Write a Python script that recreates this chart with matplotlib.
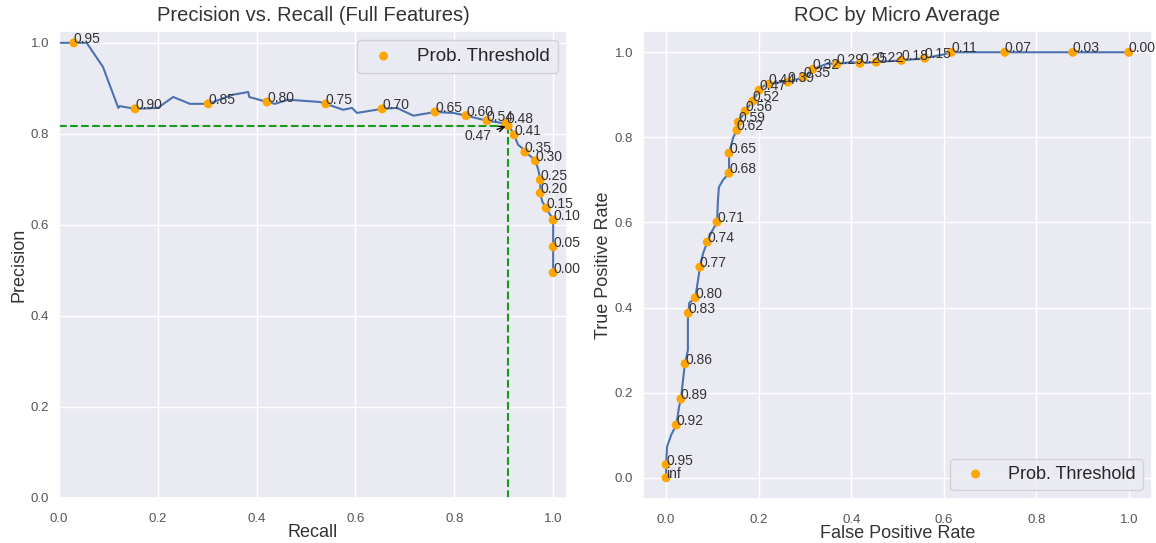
import matplotlib
matplotlib.use("Agg")
import matplotlib.pyplot as plt
import seaborn as sns

# ---- Precision / recall curve (full features) ----
pr_recall = [0.0, 0.030, 0.056, 0.089, 0.120, 0.123, 0.154, 0.200, 0.231, 0.265,
             0.302, 0.352, 0.383, 0.385, 0.421, 0.437, 0.464, 0.528, 0.540, 0.575,
             0.593, 0.603, 0.654, 0.684, 0.717, 0.761, 0.798, 0.824, 0.866, 0.890,
             0.905, 0.912, 0.921, 0.929, 0.937, 0.943, 0.953, 0.964, 0.970, 0.974,
             0.974, 0.978, 0.986, 1.0, 1.0, 1.0]
pr_precision = [1.0, 1.0, 1.0, 0.947, 0.857, 0.861, 0.855, 0.857, 0.881, 0.866,
                0.866, 0.886, 0.892, 0.881, 0.870, 0.866, 0.875, 0.870, 0.866, 0.853,
                0.857, 0.846, 0.855, 0.857, 0.840, 0.848, 0.846, 0.840, 0.829, 0.825,
                0.823, 0.815, 0.798, 0.776, 0.769, 0.760, 0.752, 0.741, 0.721, 0.699,
                0.670, 0.651, 0.637, 0.611, 0.552, 0.495]

pr_thr_labels = ["0.95", "0.90", "0.85", "0.80", "0.75", "0.70", "0.65", "0.60", "0.54",
                 "0.48", "0.41", "0.35", "0.30", "0.25", "0.20", "0.15", "0.10", "0.05", "0.00"]
pr_thr_recall = [0.030, 0.154, 0.302, 0.421, 0.540, 0.654, 0.761, 0.824, 0.866,
                 0.905, 0.921, 0.943, 0.964, 0.974, 0.974, 0.986, 1.0, 1.0, 1.0]
pr_thr_precision = [1.000, 0.855, 0.866, 0.870, 0.866, 0.855, 0.848, 0.840, 0.829,
                    0.823, 0.798, 0.760, 0.741, 0.699, 0.670, 0.637, 0.611, 0.552, 0.495]

# chosen operating threshold
sel_label = "0.47"
sel_recall = 0.909
sel_precision = 0.818

# ---- ROC curve (micro average) ----
roc_fpr = [0.0, 0.0, 0.002, 0.011, 0.022, 0.028, 0.032, 0.039, 0.041, 0.047,
           0.047, 0.048, 0.050, 0.063, 0.069, 0.073, 0.080, 0.089, 0.097, 0.110,
           0.112, 0.114, 0.123, 0.136, 0.136, 0.145, 0.153, 0.156, 0.171, 0.187,
           0.201, 0.212, 0.222, 0.248, 0.263, 0.296, 0.317, 0.350, 0.369, 0.400,
           0.419, 0.454, 0.508, 0.559, 0.600, 0.616, 0.732, 0.879, 1.0]
roc_tpr = [0.0, 0.031, 0.073, 0.101, 0.124, 0.167, 0.185, 0.254, 0.268, 0.300,
           0.371, 0.387, 0.411, 0.423, 0.465, 0.495, 0.528, 0.554, 0.575, 0.601,
           0.653, 0.683, 0.700, 0.716, 0.763, 0.800, 0.817, 0.836, 0.862, 0.885,
           0.911, 0.922, 0.925, 0.930, 0.930, 0.941, 0.960, 0.974, 0.972, 0.977,
           0.974, 0.977, 0.981, 0.986, 0.995, 1.0, 1.0, 1.0, 1.0]

roc_thr_labels = ["inf", "0.95", "0.92", "0.89", "0.86", "0.83", "0.80", "0.77", "0.74",
                  "0.71", "0.68", "0.65", "0.62", "0.59", "0.56", "0.52", "0.47", "0.44",
                  "0.39", "0.35", "0.32", "0.29", "0.25", "0.22", "0.18", "0.15", "0.11",
                  "0.07", "0.03", "0.00"]
roc_thr_fpr = [0.0, 0.0, 0.022, 0.032, 0.041, 0.048, 0.063, 0.073, 0.089, 0.110,
               0.136, 0.136, 0.153, 0.156, 0.171, 0.187, 0.201, 0.222, 0.263, 0.296,
               0.317, 0.369, 0.419, 0.454, 0.508, 0.559, 0.616, 0.732, 0.879, 1.0]
roc_thr_tpr = [0.0, 0.031, 0.124, 0.185, 0.268, 0.387, 0.423, 0.495, 0.554, 0.601,
               0.716, 0.763, 0.817, 0.836, 0.862, 0.885, 0.911, 0.925, 0.930, 0.941,
               0.960, 0.972, 0.974, 0.977, 0.981, 0.986, 1.0, 1.0, 1.0, 1.0]

sns.set_theme(style="darkgrid")
plt.rcParams["font.family"] = ["Liberation Sans", "DejaVu Sans"]

LINE = "#4c72b0"
MARK = "orange"
TXT = "#333333"
W, H = 1156, 543

fig = plt.figure(figsize=(W / 100, H / 100), dpi=100)
ax1 = fig.add_axes([59 / W, 1 - 498 / H, (567 - 59) / W, (498 - 31) / H])
ax2 = fig.add_axes([643 / W, 1 - 499 / H, (1152 - 643) / W, (499 - 31) / H])

# Precision vs recall
ax1.plot(pr_recall, pr_precision, color=LINE, lw=1.5, zorder=2)
ax1.scatter(pr_thr_recall + [sel_recall], pr_thr_precision + [sel_precision],
            s=42, color=MARK, edgecolors="none", zorder=3, label="Prob. Threshold")
for lab, r, p in zip(pr_thr_labels, pr_thr_recall, pr_thr_precision):
    ax1.text(r, p, lab, fontsize=10, color=TXT, zorder=4)
ax1.plot([0, sel_recall], [sel_precision, sel_precision], ls="--", color="#1a9a1a", lw=1.5, zorder=2)
ax1.plot([sel_recall, sel_recall], [0, sel_precision], ls="--", color="#1a9a1a", lw=1.5, zorder=2)
ax1.annotate(sel_label, xy=(sel_recall, sel_precision), xytext=(0.82, 0.787),
             fontsize=10, color=TXT,
             arrowprops=dict(arrowstyle="->", color="black", lw=1.0))
ax1.set_xlim(0, 1.028)
ax1.set_ylim(0, 1.026)
ax1.set_xticks([0, 0.2, 0.4, 0.6, 0.8, 1.0])
ax1.set_yticks([0, 0.2, 0.4, 0.6, 0.8, 1.0])
ax1.set_title("Precision vs. Recall (Full Features)", fontsize=14.5, color=TXT, pad=7)

# ROC
ax2.plot(roc_fpr, roc_tpr, color=LINE, lw=1.5, zorder=2)
ax2.scatter(roc_thr_fpr, roc_thr_tpr, s=42, color=MARK, edgecolors="none", zorder=3,
            label="Prob. Threshold")
for lab, f, t in zip(roc_thr_labels, roc_thr_fpr, roc_thr_tpr):
    ax2.text(f, t, lab, fontsize=10, color=TXT, zorder=4)
ax2.set_xticks([0, 0.2, 0.4, 0.6, 0.8, 1.0])
ax2.set_yticks([0, 0.2, 0.4, 0.6, 0.8, 1.0])
ax2.set_title("ROC by Micro Average", fontsize=14.5, color=TXT, pad=7)

for ax in (ax1, ax2):
    ax.tick_params(axis="x", labelsize=9.5, colors="#555555", pad=5)
    ax.tick_params(axis="y", labelsize=9.5, colors="#555555", pad=1)

ax1.set_xlabel("Recall", fontsize=13, color=TXT, labelpad=-1)
ax1.set_ylabel("Precision", fontsize=13, color=TXT, labelpad=2)
ax2.set_xlabel("False Positive Rate", fontsize=13, color=TXT, labelpad=-1)
ax2.set_ylabel("True Positive Rate", fontsize=13, color=TXT, labelpad=2)

ax1.legend(loc="upper right", fontsize=13.5)
ax2.legend(loc="lower right", fontsize=13)

fig.savefig("out.png", dpi=100)
